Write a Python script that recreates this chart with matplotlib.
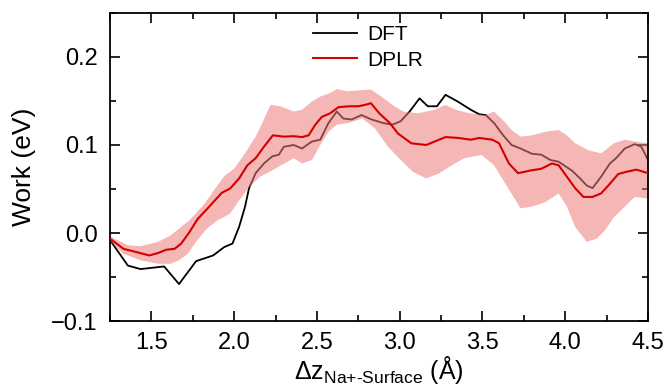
import matplotlib
matplotlib.use('Agg')
import matplotlib.pyplot as plt
from matplotlib.ticker import MultipleLocator

plt.rcParams['font.family'] = ['Liberation Sans', 'DejaVu Sans']
plt.rcParams['mathtext.fontset'] = 'custom'
plt.rcParams['mathtext.rm'] = 'Liberation Sans'
plt.rcParams['mathtext.it'] = 'Liberation Sans'
plt.rcParams['mathtext.default'] = 'regular'

# DFT work profile
dft_x = [1.25, 1.358, 1.435, 1.577, 1.667, 1.77, 1.873, 1.94, 1.99, 2.03, 2.066, 2.09, 2.13,
         2.18, 2.23, 2.27, 2.30, 2.36, 2.41, 2.47, 2.52, 2.57, 2.62, 2.66, 2.71, 2.77, 2.83,
         2.90, 2.955, 3.006, 3.06, 3.12, 3.17, 3.225, 3.277, 3.354, 3.43, 3.48, 3.52, 3.57,
         3.625, 3.676, 3.73, 3.80, 3.856, 3.91, 3.96, 4.04, 4.09, 4.13, 4.165, 4.217, 4.27,
         4.307, 4.36, 4.42, 4.46, 4.50]
dft_y = [-0.008, -0.037, -0.041, -0.038, -0.058, -0.032, -0.0255, -0.016, -0.012, 0.007, 0.030,
         0.051, 0.068, 0.079, 0.087, 0.089, 0.098, 0.100, 0.096, 0.104, 0.106, 0.125, 0.138,
         0.130, 0.129, 0.134, 0.129, 0.125, 0.123, 0.127, 0.138, 0.153, 0.144, 0.144, 0.157,
         0.149, 0.140, 0.135, 0.134, 0.125, 0.111, 0.100, 0.096, 0.090, 0.089, 0.083, 0.081,
         0.071, 0.062, 0.054, 0.051, 0.064, 0.079, 0.085, 0.096, 0.101, 0.098, 0.083]

# DPLR mean work profile
dplr_x = [1.25, 1.332, 1.41, 1.487, 1.54, 1.59, 1.64, 1.68, 1.73, 1.78, 1.85, 1.925, 1.976,
          2.03, 2.08, 2.13, 2.18, 2.234, 2.30, 2.36, 2.41, 2.45, 2.49, 2.53, 2.58, 2.63, 2.697,
          2.75, 2.80, 2.826, 2.877, 2.94, 2.99, 3.07, 3.16, 3.277, 3.354, 3.43, 3.48, 3.56,
          3.60, 3.66, 3.715, 3.79, 3.856, 3.92, 3.96, 4.01, 4.06, 4.11, 4.165, 4.217, 4.27,
          4.32, 4.37, 4.43, 4.50]
dplr_y = [-0.0065, -0.018, -0.0217, -0.0255, -0.0228, -0.019, -0.018, -0.012, 0.001, 0.016,
          0.030, 0.0456, 0.0506, 0.062, 0.077, 0.085, 0.098, 0.111, 0.1095, 0.110, 0.109, 0.111,
          0.123, 0.132, 0.136, 0.143, 0.144, 0.144, 0.146, 0.1475, 0.136, 0.125, 0.113, 0.102,
          0.100, 0.109, 0.108, 0.106, 0.108, 0.106, 0.102, 0.079, 0.068, 0.071, 0.073, 0.079,
          0.077, 0.064, 0.051, 0.041, 0.041, 0.045, 0.056, 0.067, 0.0696, 0.072, 0.068]

# DPLR uncertainty band
up_x = [1.25, 1.36, 1.435, 1.54, 1.616, 1.667, 1.73, 1.82, 1.886, 1.94, 2.0, 2.066, 2.13, 2.17,
        2.22, 2.285, 2.36, 2.41, 2.47, 2.52, 2.58, 2.62, 2.685, 2.75, 2.826, 2.89, 2.955, 3.02,
        3.11, 3.21, 3.277, 3.34, 3.42, 3.52, 3.57, 3.64, 3.676, 3.73, 3.80, 3.88, 3.96, 4.01,
        4.06, 4.14, 4.217, 4.295, 4.36, 4.42, 4.50]
up_y = [-0.004, -0.014, -0.015, -0.010, -0.003, 0.005, 0.0144, 0.033, 0.0506, 0.0646, 0.073,
        0.0905, 0.1095, 0.125, 0.1456, 0.1437, 0.138, 0.140, 0.1494, 0.155, 0.159, 0.1635, 0.161,
        0.162, 0.163, 0.155, 0.1456, 0.138, 0.136, 0.140, 0.1456, 0.140, 0.136, 0.134, 0.138,
        0.125, 0.117, 0.1095, 0.111, 0.115, 0.117, 0.111, 0.102, 0.094, 0.0905, 0.102, 0.106,
        0.104, 0.102]
lo_x = [1.25, 1.33, 1.435, 1.54, 1.616, 1.667, 1.72, 1.77, 1.835, 1.90, 1.976, 2.03, 2.09,
        2.157, 2.234, 2.285, 2.36, 2.41, 2.47, 2.52, 2.57, 2.62, 2.70, 2.774, 2.85, 2.93, 3.006,
        3.08, 3.16, 3.238, 3.316, 3.39, 3.496, 3.57, 3.65, 3.73, 3.80, 3.88, 3.96, 4.01, 4.06,
        4.13, 4.19, 4.24, 4.295, 4.36, 4.42, 4.50]
lo_y = [-0.009, -0.0236, -0.031, -0.035, -0.035, -0.031, -0.0236, -0.010, 0.005, 0.0144, 0.022,
        0.037, 0.052, 0.064, 0.0715, 0.077, 0.085, 0.079, 0.083, 0.100, 0.115, 0.123, 0.1255,
        0.130, 0.119, 0.098, 0.083, 0.0696, 0.062, 0.0677, 0.077, 0.085, 0.0886, 0.077, 0.0525,
        0.028, 0.030, 0.035, 0.045, 0.030, 0.007, -0.010, -0.0065, 0.003, 0.018, 0.030, 0.041,
        0.039]

fig = plt.figure(figsize=(6.65, 3.9), dpi=100)
ax = fig.add_axes([0.1654, 0.1769, 0.809, 0.7898])

ax.plot(dft_x, dft_y, color='black', lw=1.3, label='DFT', zorder=1)
band_x = up_x + lo_x[::-1]
band_y = up_y + lo_y[::-1]
ax.fill(band_x, band_y, color='#ee7a7a', alpha=0.55, lw=0, zorder=2)
ax.plot(dplr_x, dplr_y, color='#d40000', lw=1.5, label='DPLR', zorder=3)

ax.set_xlim(1.25, 4.5)
ax.set_ylim(-0.1, 0.25)
ax.xaxis.set_major_locator(MultipleLocator(0.5))
ax.xaxis.set_minor_locator(MultipleLocator(0.25))
ax.yaxis.set_minor_locator(MultipleLocator(0.05))
ax.set_yticks([-0.1, 0.0, 0.1, 0.2])
ax.set_yticklabels(['\u22120.1', '0.0', '0.1', '0.2'])
ax.tick_params(which='both', direction='in', top=True, right=True, width=1.2, labelsize=17)
ax.tick_params(which='major', length=7.5)
ax.tick_params(which='minor', length=4)
ax.tick_params(axis='y', pad=9)
ax.tick_params(axis='x', pad=8)
for s in ax.spines.values():
    s.set_linewidth(1.3)

ax.set_ylabel('Work (eV)', fontsize=19)
ax.yaxis.set_label_coords(-0.137, 0.5)
ax.set_xlabel('$\\Delta$z$_{\\mathregular{Na{+}\u2010Surface}}$ (Å)', fontsize=18, labelpad=0)

ax.legend(loc='upper left', bbox_to_anchor=(0.377, 0.96), frameon=False, fontsize=15,
          handlelength=2.1, handletextpad=0.5, labelspacing=0.3, borderpad=0, borderaxespad=0)

fig.savefig('out.png', dpi=100)
